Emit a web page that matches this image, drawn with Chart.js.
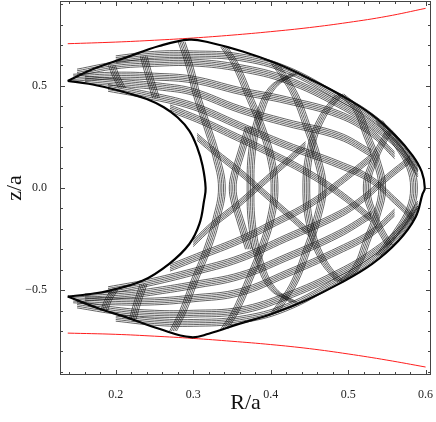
<!DOCTYPE html>
<html>
<head>
<meta charset="utf-8">
<script src="https://cdn.jsdelivr.net/npm/chart.js@4.4.1/dist/chart.umd.min.js"></script>
<style>
  html, body { margin: 0; padding: 0; background: #fff; }
</style>
</head>
<body>
<canvas id="orbit" width="436" height="422"></canvas>
<script>
// axis ticks
const xLabelTicks = [0.2, 0.3, 0.4, 0.5, 0.6];
const xMinorTicks = [0.14, 0.16, 0.18, 0.2, 0.22, 0.24, 0.26, 0.28, 0.3, 0.32, 0.34, 0.36, 0.38, 0.4,
  0.42, 0.44, 0.46, 0.48, 0.5, 0.52, 0.54, 0.56, 0.58, 0.6];
const yLabelTicks = [-0.5, 0.0, 0.5];
const yMinorTicks = [-0.9, -0.8, -0.7, -0.6, -0.5, -0.4, -0.3, -0.2, -0.1, 0.0, 0.1, 0.2, 0.3, 0.4, 0.5, 0.6, 0.7, 0.8, 0.9];

// red limiting curves
const redR = [0.138, 0.2, 0.25, 0.3, 0.35, 0.4, 0.45, 0.5, 0.55, 0.6];
const redTopZ = [0.706, 0.714, 0.723, 0.734, 0.748, 0.765, 0.785, 0.81, 0.84, 0.879];
const redBotZ = [-0.71, -0.716, -0.725, -0.736, -0.75, -0.766, -0.786, -0.812, -0.842, -0.876];

// outer and inner edges of the orbit
const outerR = [0.138, 0.170, 0.213, 0.256, 0.295, 0.321, 0.364, 0.407, 0.450, 0.493, 0.530, 0.560, 0.583, 0.595, 0.599,
  0.596, 0.587, 0.565, 0.531, 0.488, 0.445, 0.402, 0.359, 0.320, 0.297, 0.256, 0.213, 0.179, 0.138];
const outerZ = [0.524, 0.581, 0.638, 0.695, 0.726, 0.712, 0.668, 0.610, 0.535, 0.450, 0.360, 0.260, 0.160, 0.080, 0.0,
  -0.030, -0.143, -0.258, -0.371, -0.469, -0.550, -0.615, -0.665, -0.713, -0.730, -0.689, -0.632, -0.591, -0.531];
const innerR = [0.138, 0.165, 0.192, 0.215, 0.240, 0.262, 0.280, 0.295, 0.305, 0.312, 0.316,
  0.314, 0.308, 0.295, 0.269, 0.235, 0.192, 0.165, 0.138];
const innerZ = [0.524, 0.510, 0.488, 0.465, 0.435, 0.395, 0.345, 0.280, 0.200, 0.110, 0.0,
  -0.062, -0.176, -0.274, -0.371, -0.453, -0.502, -0.520, -0.531];

// bands of the upper half, fanning out of the upper tip
const up1R = [0.20, 0.25, 0.30, 0.36, 0.42, 0.488, 0.53, 0.565, 0.59];
const up1Z = [0.630, 0.652, 0.654, 0.640, 0.580, 0.445, 0.350, 0.230, 0.100];
const up2R = [0.15, 0.20, 0.25, 0.30, 0.36, 0.42, 0.488, 0.53, 0.565, 0.59];
const up2Z = [0.565, 0.600, 0.612, 0.614, 0.587, 0.530, 0.410, 0.310, 0.200, 0.070];
const up3R = [0.145, 0.20, 0.25, 0.30, 0.36, 0.42, 0.488, 0.53, 0.56];
const up3Z = [0.540, 0.550, 0.545, 0.530, 0.475, 0.430, 0.360, 0.270, 0.160];
const up4R = [0.16, 0.22, 0.26, 0.30, 0.36, 0.42, 0.488, 0.53];
const up4Z = [0.530, 0.510, 0.495, 0.470, 0.385, 0.320, 0.255, 0.170];
const up5R = [0.19, 0.24, 0.30, 0.36, 0.42, 0.488, 0.53, 0.56, 0.585];
const up5Z = [0.490, 0.455, 0.400, 0.305, 0.210, 0.115, 0.040, -0.060, -0.150];
const up6R = [0.27, 0.31, 0.35, 0.40, 0.45, 0.49, 0.53];
const up6Z = [0.390, 0.330, 0.260, 0.170, 0.070, -0.030, -0.150];
const up7R = [0.305, 0.33, 0.36, 0.39, 0.42, 0.45];
const up7Z = [0.250, 0.170, 0.080, -0.020, -0.120, -0.220];

// bands of the lower half, fanning out of the lower tip
const lo1R = [0.20, 0.25, 0.30, 0.36, 0.42, 0.488, 0.53, 0.565, 0.59];
const lo1Z = [-0.635, -0.655, -0.660, -0.645, -0.585, -0.450, -0.355, -0.235, -0.105];
const lo2R = [0.15, 0.20, 0.25, 0.30, 0.36, 0.42, 0.488, 0.53, 0.565, 0.59];
const lo2Z = [-0.570, -0.600, -0.615, -0.615, -0.600, -0.530, -0.415, -0.320, -0.210, -0.080];
const lo3R = [0.145, 0.20, 0.25, 0.30, 0.36, 0.42, 0.488, 0.53, 0.56];
const lo3Z = [-0.545, -0.555, -0.555, -0.540, -0.510, -0.420, -0.305, -0.220, -0.120];
const lo4R = [0.16, 0.22, 0.26, 0.30, 0.36, 0.42, 0.488, 0.53];
const lo4Z = [-0.535, -0.520, -0.500, -0.475, -0.430, -0.340, -0.225, -0.130];
const lo5R = [0.19, 0.24, 0.30, 0.36, 0.42, 0.488, 0.52, 0.55, 0.58];
const lo5Z = [-0.500, -0.465, -0.410, -0.345, -0.245, -0.130, -0.050, 0.050, 0.140];
const lo6R = [0.27, 0.31, 0.36, 0.40, 0.45, 0.49, 0.53];
const lo6Z = [-0.390, -0.330, -0.255, -0.180, -0.080, 0.030, 0.150];
const lo7R = [0.300, 0.325, 0.355, 0.385, 0.415, 0.445];
const lo7Z = [-0.270, -0.180, -0.090, 0.010, 0.110, 0.210];

// arcs bulging to the right, crossing the middle
const arcA1R = [0.285, 0.295, 0.305, 0.318, 0.330, 0.337, 0.330, 0.318, 0.302, 0.287, 0.274];
const arcA1Z = [0.715, 0.60, 0.45, 0.30, 0.15, 0.0, -0.15, -0.30, -0.45, -0.60, -0.70];
const arcA2R = [0.340, 0.355, 0.372, 0.388, 0.400, 0.405, 0.400, 0.388, 0.372, 0.355, 0.340];
const arcA2Z = [0.690, 0.600, 0.450, 0.300, 0.150, 0.0, -0.150, -0.300, -0.450, -0.600, -0.690];
const arcA3R = [0.405, 0.418, 0.432, 0.447, 0.460, 0.467, 0.460, 0.447, 0.432, 0.418, 0.405];
const arcA3Z = [0.610, 0.540, 0.450, 0.300, 0.150, 0.0, -0.150, -0.300, -0.450, -0.540, -0.610];
const arcA4R = [0.490, 0.510, 0.525, 0.538, 0.544, 0.538, 0.525, 0.510, 0.490];
const arcA4Z = [0.460, 0.390, 0.250, 0.120, 0.0, -0.120, -0.250, -0.390, -0.460];
const arcA5R = [0.540, 0.565, 0.580, 0.585, 0.580, 0.565, 0.540];
const arcA5Z = [0.330, 0.200, 0.100, 0.0, -0.100, -0.200, -0.330];

// arcs bulging to the left
const arcB0R = [0.372, 0.360, 0.353, 0.351, 0.353, 0.360, 0.372];
const arcB0Z = [0.300, 0.150, 0.060, 0.0, -0.060, -0.150, -0.300];
const arcB1R = [0.430, 0.402, 0.385, 0.376, 0.374, 0.376, 0.385, 0.402, 0.430];
const arcB1Z = [0.560, 0.490, 0.350, 0.180, 0.0, -0.180, -0.350, -0.490, -0.560];
const arcB2R = [0.488, 0.467, 0.452, 0.446, 0.452, 0.467, 0.488];
const arcB2Z = [0.455, 0.350, 0.200, 0.0, -0.200, -0.350, -0.455];
const arcB3R = [0.553, 0.535, 0.524, 0.535, 0.553];
const arcB3Z = [0.280, 0.150, 0.0, -0.150, -0.280];

// short bundles near the tips
const tipUp1R = [0.195, 0.200, 0.208];
const tipUp1Z = [0.60, 0.55, 0.49];
const tipUp2R = [0.236, 0.243, 0.252];
const tipUp2Z = [0.645, 0.55, 0.44];
const tipLo1R = [0.185, 0.190, 0.198];
const tipLo1Z = [-0.60, -0.55, -0.50];
const tipLo2R = [0.222, 0.228, 0.236];
const tipLo2Z = [-0.64, -0.56, -0.47];

function pts(rs, zs) {
  return rs.map((r, i) => ({ x: r, y: zs[i] }));
}

// a band of thin parallel strands, shifted sideways (flat bands) or across (steep arcs)
function band(rs, zs, steep) {
  return { data: pts(rs, zs), borderColor: "#111", borderWidth: 0.65, tension: 0.4, strands: steep ? [1.7, 0] : [0, 1.7] };
}

function edge(rs, zs) {
  return { data: pts(rs, zs), borderColor: "#000", borderWidth: 2.2, tension: 0.4 };
}

function red(rs, zs) {
  return { data: pts(rs, zs), borderColor: "rgb(255,30,30)", borderWidth: 1, tension: 0.4 };
}

const datasets = [
  band(up1R, up1Z), band(up2R, up2Z), band(up3R, up3Z), band(up4R, up4Z),
  band(up5R, up5Z), band(up6R, up6Z), band(up7R, up7Z),
  band(lo1R, lo1Z), band(lo2R, lo2Z), band(lo3R, lo3Z), band(lo4R, lo4Z),
  band(lo5R, lo5Z), band(lo6R, lo6Z), band(lo7R, lo7Z),
  band(arcA1R, arcA1Z, true), band(arcA2R, arcA2Z, true), band(arcA3R, arcA3Z, true),
  band(arcA4R, arcA4Z, true), band(arcA5R, arcA5Z, true),
  band(arcB0R, arcB0Z, true), band(arcB1R, arcB1Z, true), band(arcB2R, arcB2Z, true), band(arcB3R, arcB3Z, true),
  band(tipUp1R, tipUp1Z, true), band(tipUp2R, tipUp2Z, true),
  band(tipLo1R, tipLo1Z, true), band(tipLo2R, tipLo2Z, true),
  edge(outerR, outerZ), edge(innerR, innerZ),
  red(redR, redTopZ), red(redR, redBotZ)
];

// draws a dataset five times, side by side, so that it reads as a bundle of strands
const strandBundle = {
  id: "strandBundle",
  beforeDatasetDraw(chart, args) {
    const ds = chart.data.datasets[args.index];
    if (!ds.strands) return;
    const { ctx, chartArea: a } = chart;
    ctx.save();
    ctx.beginPath();
    ctx.rect(a.left, a.top, a.right - a.left, a.bottom - a.top);
    ctx.clip();
    for (let k = -2; k <= 2; k++) {
      ctx.save();
      ctx.translate(ds.strands[0] * k, ds.strands[1] * k);
      args.meta.dataset.draw(ctx, a);
      ctx.restore();
    }
    ctx.restore();
    return false;
  }
};

// frame with inward ticks on all four sides
const frameTicks = {
  id: "frameTicks",
  afterDraw(chart) {
    const { ctx, chartArea: a, scales } = chart;
    ctx.save();
    ctx.strokeStyle = "#444";
    ctx.lineWidth = 1;
    ctx.strokeRect(a.left + 0.5, a.top + 0.5, a.right - a.left - 1, a.bottom - a.top - 1);
    ctx.beginPath();
    xMinorTicks.forEach(v => {
      const px = Math.round(scales.x.getPixelForValue(v)) + 0.5;
      const len = xLabelTicks.some(m => Math.abs(m - v) < 1e-6) ? 5 : 3;
      ctx.moveTo(px, a.bottom); ctx.lineTo(px, a.bottom - len);
      ctx.moveTo(px, a.top); ctx.lineTo(px, a.top + len);
    });
    yMinorTicks.forEach(v => {
      const py = Math.round(scales.y.getPixelForValue(v)) + 0.5;
      const len = yLabelTicks.some(m => Math.abs(m - v) < 1e-6) ? 5 : 3;
      ctx.moveTo(a.left, py); ctx.lineTo(a.left + len, py);
      ctx.moveTo(a.right, py); ctx.lineTo(a.right - len, py);
    });
    ctx.stroke();
    ctx.restore();
  }
};

const serif = "'Liberation Serif', 'DejaVu Serif', serif";

new Chart(document.getElementById("orbit"), {
  type: "scatter",
  data: { datasets },
  options: {
    responsive: false,
    animation: false,
    showLine: true,
    elements: { point: { radius: 0 } },
    layout: { padding: { top: 1, right: 5, left: 0, bottom: 0 } },
    plugins: { legend: { display: false }, tooltip: { enabled: false } },
    scales: {
      x: {
        type: "linear",
        min: 0.128,
        max: 0.607,
        grid: { display: false },
        border: { display: false },
        afterBuildTicks: s => { s.ticks = xLabelTicks.map(v => ({ value: v })); },
        afterFit: s => { s.height = 47; s.paddingLeft = 0; s.paddingRight = 0; },
        ticks: {
          padding: 5,
          color: "#222",
          font: { family: serif, size: 12 },
          callback: v => v.toFixed(1)
        },
        title: {
          display: true,
          text: "R/a",
          color: "#111",
          font: { family: serif, size: 22 },
          padding: { top: 0, bottom: 6 }
        }
      },
      y: {
        type: "linear",
        min: -0.915,
        max: 0.915,
        grid: { display: false },
        border: { display: false },
        afterBuildTicks: s => { s.ticks = yLabelTicks.map(v => ({ value: v })); },
        afterFit: s => { s.width = 60; s.paddingTop = 0; s.paddingBottom = 0; },
        ticks: {
          padding: 5,
          color: "#222",
          font: { family: serif, size: 12 },
          callback: v => (v < 0 ? "\u2212" + Math.abs(v).toFixed(1) : v.toFixed(1))
        },
        title: {
          display: true,
          text: "z/a",
          color: "#111",
          font: { family: serif, size: 22 },
          padding: { top: 2, bottom: 0 }
        }
      }
    }
  },
  plugins: [strandBundle, frameTicks]
});
</script>
</body>
</html>
